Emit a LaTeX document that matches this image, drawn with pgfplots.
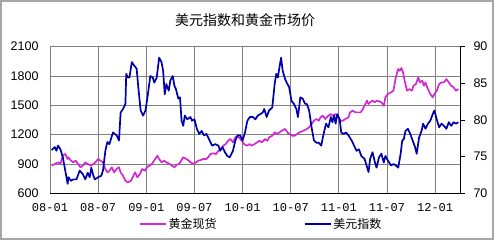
\documentclass[border=0pt]{standalone}
\usepackage{pgfplots}
\pgfplotsset{compat=1.18}
\usepackage{fontspec}
\setmainfont{Liberation Sans}
\newfontfamily\cjk{Noto Sans CJK SC}
\newfontfamily\mono{Liberation Mono}
\definecolor{goldc}{RGB}{210,40,210}
\definecolor{usdc}{RGB}{0,0,170}
\definecolor{gridc}{RGB}{128,128,128}
\begin{document}
\begin{tikzpicture}[x=1pt,y=1pt]
\path[use as bounding box] (0,0) rectangle (494,240);
\draw[gray!70, line width=2pt] (1,1) rectangle (493,239);
\node[font=\cjk\fontsize{14}{16}\selectfont] at (245,220) {美元指数和黄金市场价};
\begin{axis}[
  scale only axis, width=410pt, height=146.6pt,
  at={(50pt,46.7pt)}, anchor=south west,
  xmin=0, xmax=51.1, ymin=600, ymax=2100,
  xtick={0,6,12,18,24,30,36,42,48},
  xticklabels={08-01,08-07,09-01,09-07,10-01,10-07,11-01,11-07,12-01},
  ytick={600,900,1200,1500,1800,2100},
  grid=major, major grid style={gridc, line width=0.9pt},
  axis line style={gridc, line width=0.9pt},
  major tick length=0pt,
  xticklabel style={font=\mono\fontsize{12}{14}\selectfont, yshift=-7pt},
  yticklabel style={font=\fontsize{12.5}{14}\selectfont, xshift=-8pt},
  /pgf/number format/assume math mode=true,
  /pgf/number format/1000 sep={},
  legend columns=2,
  legend style={at={(0.515,-0.209)}, anchor=center, draw=none, fill=none,
    font=\cjk\fontsize{12}{14}\selectfont,
    /tikz/every even column/.append style={column sep=85pt}},
  legend image code/.code={\draw[#1] (0pt,0pt) -- (26pt,0pt);},
]
\addplot[goldc, line width=1.7pt, line join=round] coordinates {
(0.2,883)(0.6,900)(1,917)(1.3,900)(1.6,985)(1.9,1002)(2.2,951)(2.3,968)(2.6,934)(2.9,917)(3.2,934)(3.5,900)(3.8,866)(4.1,883)(4.4,917)(4.7,900)(5.1,883)(5.4,900)(5.65,917)(6,951)(6.3,934)(6.6,917)(6.9,849)(7.15,814)(7.4,831)(7.7,866)(8,814)(8.3,849)(8.6,866)(8.8,814)(9.1,780)(9.4,729)(9.7,712)(10.1,729)(10.3,763)(10.6,814)(10.9,763)(11.2,797)(11.5,849)(11.8,831)(12.1,866)(12.4,883)(12.7,900)(13.1,951)(13.4,985)(13.6,951)(13.9,917)(14.2,934)(14.5,917)(14.9,900)(15.2,883)(15.5,866)(15.8,893)(16.1,900)(16.4,941)(16.6,968)(17,951)(17.3,934)(17.5,917)(17.9,900)(18.2,917)(18.5,934)(18.8,941)(19.1,951)(19.5,951)(19.7,968)(20,1002)(20.4,1009)(20.7,1002)(21,1036)(21.3,1053)(21.6,1087)(21.9,1104)(22.2,1138)(22.5,1155)(22.8,1121)(23.1,1172)(23.4,1189)(23.6,1166)(23.9,1138)(24.2,1104)(24.5,1087)(24.9,1104)(25.1,1087)(25.5,1104)(25.8,1121)(26.1,1138)(26.4,1121)(26.8,1155)(27.1,1138)(27.3,1172)(27.7,1189)(28,1224)(28.3,1207)(28.6,1224)(28.9,1241)(29.3,1258)(29.6,1224)(29.8,1207)(30.2,1189)(30.5,1189)(30.8,1207)(31.1,1224)(31.4,1234)(31.8,1248)(32,1258)(32.3,1275)(32.6,1309)(32.9,1343)(33.2,1360)(33.5,1343)(33.7,1377)(34,1394)(34.3,1360)(34.7,1394)(35,1411)(35.2,1394)(35.6,1411)(35.9,1377)(36.2,1343)(36.5,1343)(36.8,1360)(37.2,1377)(37.4,1428)(37.7,1445)(38.1,1428)(38.4,1428)(38.7,1428)(39,1462)(39.2,1496)(39.5,1548)(39.7,1514)(39.9,1531)(40.2,1548)(40.5,1531)(40.7,1548)(41,1541)(41.3,1531)(41.6,1496)(41.8,1582)(42.1,1616)(42.5,1633)(42.8,1650)(43.1,1786)(43.4,1872)(43.6,1854)(43.8,1882)(44,1837)(44.2,1752)(44.5,1650)(44.8,1667)(45.1,1650)(45.3,1701)(45.6,1718)(45.9,1786)(46.1,1735)(46.4,1752)(46.6,1701)(46.8,1735)(47.1,1667)(47.4,1616)(47.7,1582)(47.9,1616)(48.2,1650)(48.5,1718)(48.8,1735)(49.1,1735)(49.4,1769)(49.7,1735)(50,1701)(50.3,1684)(50.6,1650)(50.9,1667)
};
\addlegendentry{黄金现货}
\addlegendimage{usdc, line width=1.7pt}
\addlegendentry{美元指数}
\end{axis}
\begin{axis}[
  scale only axis, width=410pt, height=146.6pt,
  at={(50pt,46.7pt)}, anchor=south west,
  xmin=0, xmax=51.1, ymin=70, ymax=90,
  axis x line*=bottom, axis y line*=right,
  xtick=\empty,
  ytick={70,75,80,85,90},
  axis line style={black, line width=0.9pt, -},
  tick style={black, line width=0.9pt},
  tick align=outside, major tick length=5pt,
  yticklabel style={font=\fontsize{12.5}{14}\selectfont, xshift=5pt},
  /pgf/number format/assume math mode=true,
]
\addplot[usdc, line width=1.7pt, line join=round] coordinates {
(0.2,75.9)(0.6,76.3)(0.8,75.8)(1,76.5)(1.3,76.0)(1.6,74.9)(1.9,73.1)(2.2,71.3)(2.3,72.2)(2.6,71.7)(2.9,71.9)(3.3,71.9)(3.7,73.1)(4.1,72.6)(4.4,71.9)(4.7,72.8)(4.95,72.2)(5.15,73.5)(5.4,72.4)(5.6,71.9)(6,72.2)(6.4,72.4)(6.6,73.1)(6.9,75.8)(7.15,77.0)(7.4,76.7)(7.85,78.3)(8.3,77.9)(8.6,77.2)(8.8,81.0)(9.1,81.5)(9.4,82.2)(9.5,86.3)(9.7,85.8)(9.9,85.8)(10.2,87.9)(10.5,87.4)(10.8,87.0)(11,84.5)(11.3,81.3)(11.6,80.6)(11.9,81.3)(12.2,83.5)(12.5,86.0)(12.8,85.8)(13,85.1)(13.3,85.8)(13.6,88.5)(13.9,87.9)(14.1,86.7)(14.3,83.5)(14.5,84.9)(14.8,84.0)(15,85.4)(15.3,86.0)(15.5,84.7)(15.7,84.2)(16,82.9)(16.2,83.1)(16.4,79.9)(16.6,79.2)(16.8,80.6)(17.1,80.1)(17.5,80.4)(17.7,79.9)(18,80.1)(18.3,78.8)(18.6,78.1)(18.9,78.5)(19.2,77.9)(19.5,78.1)(19.9,77.2)(20.2,76.5)(20.6,76.7)(21,76.5)(21.2,75.8)(21.5,76.3)(21.8,75.6)(22.1,75.1)(22.4,74.9)(22.8,75.8)(23.1,77.2)(23.4,77.9)(23.7,77.9)(24,77.2)(24.3,78.3)(24.6,79.9)(24.9,80.4)(25.3,80.4)(25.6,80.1)(25.9,80.6)(26.2,80.8)(26.5,81.0)(26.7,81.5)(27,80.4)(27.3,81.3)(27.7,81.7)(28,84.9)(28.2,86.3)(28.4,85.8)(28.6,87.2)(28.8,88.5)(29,86.7)(29.3,85.6)(29.5,85.1)(29.8,84.5)(30.1,82.6)(30.4,82.2)(30.7,81.5)(30.9,80.4)(31.2,83.1)(31.5,82.9)(31.8,82.2)(32,82.2)(32.3,81.3)(32.6,79.0)(32.9,77.2)(33.2,76.9)(33.5,76.9)(33.8,76.5)(34.1,78.1)(34.4,79.5)(34.7,79.0)(35,80.4)(35.2,79.7)(35.4,80.6)(35.6,79.5)(35.8,80.8)(36.1,80.1)(36.3,78.3)(36.6,78.1)(36.9,78.3)(37.2,77.9)(37.6,77.2)(37.9,76.5)(38.2,75.8)(38.5,76.0)(38.8,75.1)(39.2,74.7)(39.4,74.0)(39.7,72.9)(39.9,74.7)(40.2,75.6)(40.5,74.2)(40.7,73.5)(41,74.9)(41.3,75.4)(41.6,74.2)(41.8,75.1)(42.1,74.5)(42.5,73.8)(42.8,74.0)(43.1,73.8)(43.4,73.5)(43.7,75.4)(43.9,77.2)(44.1,77.4)(44.3,78.5)(44.6,78.8)(44.9,78.1)(45.2,77.2)(45.5,76.3)(45.7,75.4)(46,77.6)(46.3,78.5)(46.5,79.5)(46.8,78.8)(47.1,79.5)(47.4,79.9)(47.7,80.8)(47.9,81.3)(48.2,80.1)(48.5,79.0)(48.8,79.5)(49.1,79.2)(49.4,78.8)(49.7,79.7)(50,79.2)(50.3,79.7)(50.6,79.5)(50.9,79.7)
};
\end{axis}
\end{tikzpicture}
\end{document}
